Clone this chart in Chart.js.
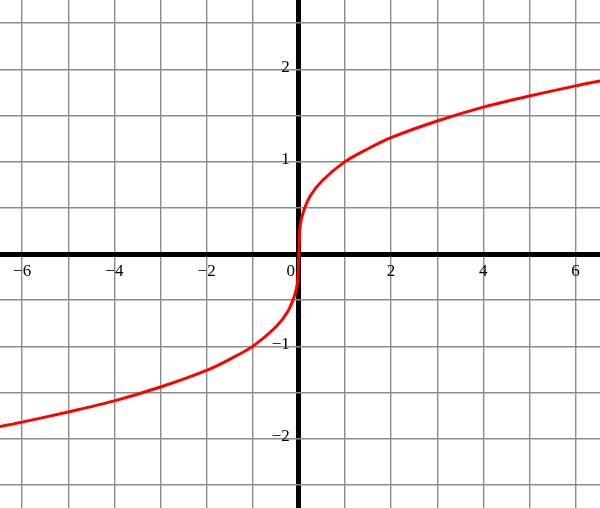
<!DOCTYPE html>
<html>
<head>
<meta charset="utf-8">
<script src="https://cdn.jsdelivr.net/npm/chart.js@4"></script>
<style>
  html, body { margin: 0; padding: 0; background: #fff; }
  #wrap { width: 600px; height: 508px; }
</style>
</head>
<body>
<div id="wrap"><canvas id="chart"></canvas></div>
<script>
// values
const xs = [-6.5, -6, -5, -4, -3, -2, -1.5, -1, -0.5, -0.25, -0.1, -0.03, 0, 0.03, 0.1, 0.25, 0.5, 1, 1.5, 2, 3, 4, 5, 6, 6.6];
const ys = [-1.87, -1.82, -1.71, -1.59, -1.44, -1.26, -1.14, -1.0, -0.79, -0.63, -0.46, -0.31, 0, 0.31, 0.46, 0.63, 0.79, 1.0, 1.14, 1.26, 1.44, 1.59, 1.71, 1.82, 1.88];

// grid lines and labelled ticks
const xGrid = [-6, -5, -4, -3, -2, -1, 0, 1, 2, 3, 4, 5, 6];
const yGrid = [-2.5, -2, -1.5, -1, -0.5, 0, 0.5, 1, 1.5, 2, 2.5];
const xLabels = [-6, -4, -2, 0, 2, 4, 6];
const yLabels = [-2, -1, 1, 2];

const fmt = v => (v < 0 ? '\u2212' + Math.abs(v) : String(v));

const labelPlugin = {
  id: 'axisLabels',
  afterDraw(chart) {
    const { ctx, scales: { x, y } } = chart;
    const y0 = y.getPixelForValue(0);
    const x0 = x.getPixelForValue(0);
    ctx.save();
    ctx.fillStyle = '#000';
    ctx.font = '17px "Liberation Serif", "DejaVu Serif", serif';
    ctx.textBaseline = 'middle';
    ctx.textAlign = 'center';
    xLabels.forEach(v => {
      const px = x.getPixelForValue(v);
      ctx.fillText(fmt(v), v === 0 ? px - 8 : px, y0 + 18);
    });
    ctx.textAlign = 'right';
    yLabels.forEach(v => {
      ctx.fillText(fmt(v), x0 - 9, y.getPixelForValue(v) - 2);
    });
    ctx.restore();
  }
};

const gridOpts = {
  drawTicks: false,
  color: c => (c.tick && c.tick.value === 0 ? '#000' : '#8c8c8c'),
  lineWidth: c => (c.tick && c.tick.value === 0 ? 5 : 1.4)
};

new Chart(document.getElementById('chart'), {
  type: 'scatter',
  data: {
    datasets: [{
      data: xs.map((v, i) => ({ x: v, y: ys[i] })),
      showLine: true,
      borderColor: '#ff0000',
      borderWidth: 3,
      pointRadius: 0,
      tension: 0.3
    }]
  },
  options: {
    responsive: true,
    maintainAspectRatio: false,
    animation: false,
    layout: { padding: 0 },
    plugins: { legend: { display: false }, tooltip: { enabled: false } },
    scales: {
      x: {
        type: 'linear',
        min: -6.48, max: 6.53,
        ticks: { display: false },
        border: { display: false },
        grid: gridOpts,
        afterBuildTicks: s => { s.ticks = xGrid.map(v => ({ value: v })); },
        afterFit: s => { s.height = 0; }
      },
      y: {
        type: 'linear',
        min: -2.75, max: 2.75,
        ticks: { display: false },
        border: { display: false },
        grid: gridOpts,
        afterBuildTicks: s => { s.ticks = yGrid.map(v => ({ value: v })); },
        afterFit: s => { s.width = 0; }
      }
    }
  },
  plugins: [labelPlugin]
});
</script>
</body>
</html>
